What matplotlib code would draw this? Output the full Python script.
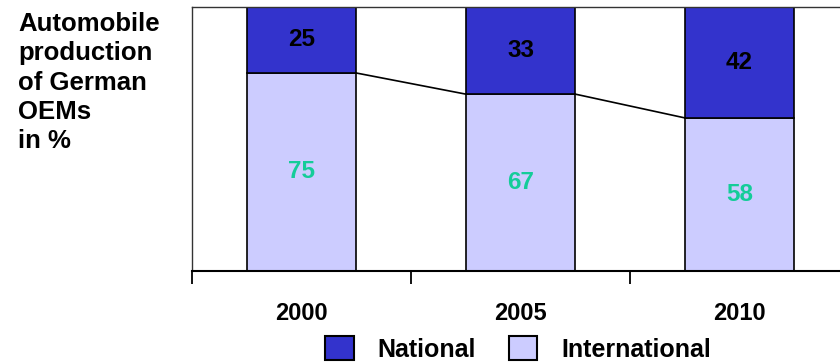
import matplotlib.pyplot as plt
from matplotlib.patches import Patch

plt.rcParams['font.family'] = ['Liberation Sans', 'DejaVu Sans']

years = ['2000', '2005', '2010']
national = [25, 33, 42]
international = [75, 67, 58]

cor_nac = '#3333cc'
cor_int = '#ccccff'
cor_num = '#14cc99'
largura = 0.5

fig = plt.figure(figsize=(8.4, 3.64), dpi=100)
ax = fig.add_axes([192 / 840, 93 / 364, 657 / 840, 264 / 364])

x = list(range(len(years)))
ax.bar(x, international, width=largura, color=cor_int, edgecolor='black', linewidth=1.2, zorder=2)
ax.bar(x, national, width=largura, bottom=international, color=cor_nac, edgecolor='black',
       linewidth=1.2, zorder=2)

# linhas ligando o topo da parte internacional de uma barra a proxima
for i in range(len(years) - 1):
    ax.plot([x[i] + largura / 2, x[i + 1] - largura / 2], [international[i], international[i + 1]],
            color='black', linewidth=1.2, zorder=3)

for i in x:
    ax.text(i, international[i] + national[i] / 2, str(national[i]), ha='center', va='center',
            fontsize=17.5, fontweight='bold', color='black', zorder=4)
    ax.text(i, international[i] / 2, str(international[i]), ha='center', va='center',
            fontsize=17.5, fontweight='bold', color=cor_num, zorder=4)

ax.set_xlim(-0.5, 2.5)
ax.set_ylim(0, 100)
ax.set_yticks([])
ax.set_xticks([-0.5, 0.5, 1.5, 2.5])
ax.set_xticklabels([])
ax.tick_params(axis='x', which='major', length=9, width=1.3, color='black')
ax.set_xticks(x, minor=True)
ax.set_xticklabels(years, minor=True, fontsize=17, fontweight='bold')
ax.tick_params(axis='x', which='minor', length=0, pad=22)
for lado in ['left', 'top', 'right']:
    ax.spines[lado].set_linewidth(1.0)
    ax.spines[lado].set_color('#333333')
ax.spines['bottom'].set_linewidth(1.5)

fig.text(18 / 840, 1 - 12 / 364, 'Automobile\nproduction\nof German\nOEMs\nin %', ha='left', va='top',
         fontsize=18.5, fontweight='bold', linespacing=1.28)

handles = [Patch(facecolor=cor_nac, edgecolor='black', linewidth=1.5, label='National'),
           Patch(facecolor=cor_int, edgecolor='black', linewidth=1.5, label='International')]
fig.legend(handles=handles, loc='center', bbox_to_anchor=(518 / 840, 15 / 364), ncol=2, frameon=False,
           prop={'size': 18, 'weight': 'bold'}, handlelength=1.15, handleheight=1.1,
           handletextpad=0.95, columnspacing=1.3, borderpad=0, borderaxespad=0)

plt.savefig('out.png', dpi=100)
